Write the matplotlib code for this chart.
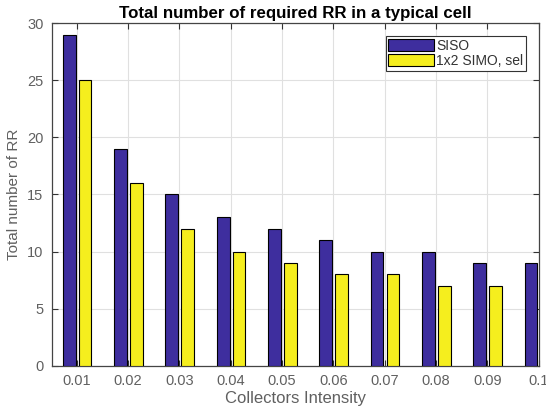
import numpy as np
import matplotlib
matplotlib.use("Agg")
import matplotlib.pyplot as plt

# Total number of required RR per collector intensity
intensity = [0.01, 0.02, 0.03, 0.04, 0.05, 0.06, 0.07, 0.08, 0.09, 0.10]
siso = [29, 19, 15, 13, 12, 11, 10, 10, 9, 9]
simo = [25, 16, 12, 10, 9, 8, 8, 7, 7, 7]
tick_labels = ["0.01", "0.02", "0.03", "0.04", "0.05", "0.06", "0.07", "0.08", "0.09", "0.1"]

plt.rcParams['font.family'] = ['Liberation Sans', 'DejaVu Sans']

fig = plt.figure(figsize=(5.46, 4.07), dpi=100)
ax = fig.add_axes([0.0947, 0.1015, 0.892, 0.8413])

x = np.array(intensity)
w = 0.0025
ax.bar(x - 0.0015, siso, width=w, color='#3E2E9E', edgecolor='black', linewidth=0.8,
       label='SISO', zorder=3)
ax.bar(x + 0.0016, simo, width=w, color='#F5EE1E', edgecolor='black', linewidth=0.8,
       label='1x2 SIMO, sel', zorder=3)

ax.set_xlim(0.0051, 0.1)
ax.set_ylim(0, 30)
ax.set_xticks(intensity)
ax.set_xticklabels(tick_labels)
ax.set_yticks(range(0, 31, 5))

gray = '#606060'
ax.tick_params(direction='in', top=True, right=True, length=4, colors='#333333',
               labelcolor=gray, labelsize=10.5, pad=6)
for s in ax.spines.values():
    s.set_color('#444444')
    s.set_linewidth(0.9)
ax.grid(True, color='#e0e0e0', linewidth=0.8, zorder=0)

ax.set_title('Total number of required RR in a typical cell', fontsize=12.2,
             fontweight='bold', pad=4)
ax.set_xlabel('Collectors Intensity', fontsize=12, color=gray, labelpad=2)
ax.set_ylabel('Total number of RR', fontsize=11, color=gray, labelpad=4)

leg = ax.legend(loc='upper right', fontsize=10, fancybox=False, framealpha=1,
                edgecolor='#333333', borderpad=0.2, labelspacing=0.1,
                handlelength=3.3, handleheight=1.0, handletextpad=0.15,
                borderaxespad=0.9)
leg.get_frame().set_linewidth(0.8)
for t in leg.get_texts():
    t.set_color('#333333')

fig.savefig("out.png", dpi=100)
